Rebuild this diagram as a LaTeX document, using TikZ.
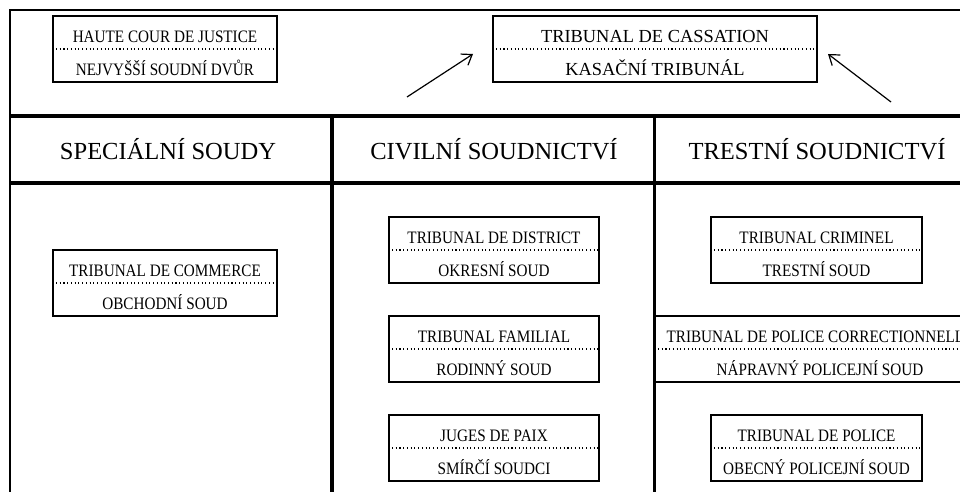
\documentclass[tikz,border=0pt]{standalone}
\usepackage{fontspec}
\setmainfont{Liberation Serif}
\newfontfamily\condfont[FakeStretch=0.87]{Liberation Serif}
\usetikzlibrary{arrows.meta}
\tikzset{
  frameline/.style={line width=1.5pt, black},
  thickline/.style={line width=2.3pt, black},
  cbox/.style={draw, line width=1.1pt, rectangle, inner sep=0pt, minimum height=66*0.75pt},
  divider/.style={dotted, line width=0.8pt, line cap=butt},
  ctext/.style={anchor=base, inner sep=0pt, font=\condfont\fontsize{13.1pt}{15pt}\selectfont},
  ntext/.style={anchor=base, inner sep=0pt, font=\fontsize{13.8pt}{16pt}\selectfont},
  htext/.style={anchor=base, inner sep=0pt, font=\fontsize{18.4pt}{22pt}\selectfont},
  arr/.style={line width=0.9pt, -{Straight Barb[length=7pt,width=10pt,line width=0.9pt]}}
}
% #1 name, #2 x centre, #3 y top, #4 width, #5 style, #6 top text, #7 bottom text
\newcommand\courtbox[7]{%
  \node[cbox, minimum width=#4*0.75pt] (#1) at (#2,#3+33) {};
  \draw[divider] (#1.west) -- (#1.east);
  \node[#5] (#1-a) at (#2,#3+26.6) {#6};
  \node[#5] (#1-b) at (#2,#3+59) {#7};
}
\begin{document}
\begin{tikzpicture}[x=0.75pt,y=-0.75pt]
\useasboundingbox (0,0) rectangle (960,492);
% frame
\draw[frameline] (9.5,500) -- (9.5,10) -- (1000,10);
\draw[thickline] (9.5,116) -- (1000,116);
\draw[thickline] (9.5,183) -- (1000,183);
\draw[thickline] (332,116) -- (332,500);
\draw[thickline] (654.5,116) -- (654.5,500);
% headers
\node[htext] (h1) at (168,159) {SPECIÁLNÍ SOUDY};
\node[htext] (h2) at (494,159) {CIVILNÍ SOUDNICTVÍ};
\node[htext] (h3) at (817,159) {TRESTNÍ SOUDNICTVÍ};
% top boxes
\courtbox{haute}{165}{16}{224}{ctext}{HAUTE COUR DE JUSTICE}{NEJVYŠŠÍ SOUDNÍ DVŮR}
\courtbox{cass}{655}{16}{324}{ntext}{TRIBUNAL DE CASSATION}{KASAČNÍ TRIBUNÁL}
% arrows
\coordinate (a1s) at (407,97);
\coordinate (a1e) at (473,54);
\coordinate (a2s) at (891,102);
\coordinate (a2e) at (828,54);
\draw[arr] (a1s) -- (a1e);
\draw[arr] (a2s) -- (a2e);
% special courts
\courtbox{comm}{165}{250}{224}{ctext}{TRIBUNAL DE COMMERCE}{OBCHODNÍ SOUD}
% civil
\courtbox{dist}{494}{217}{210}{ctext}{TRIBUNAL DE DISTRICT}{OKRESNÍ SOUD}
\courtbox{fam}{494}{316}{210}{ctext}{TRIBUNAL FAMILIAL}{RODINNÝ SOUD}
\courtbox{paix}{494}{415}{210}{ctext}{JUGES DE PAIX}{SMÍRČÍ SOUDCI}
% criminal
\courtbox{crim}{816.5}{217}{211}{ctext}{TRIBUNAL CRIMINEL}{TRESTNÍ SOUD}
\courtbox{corr}{820}{316}{330}{ctext}{TRIBUNAL DE POLICE CORRECTIONNELLE}{NÁPRAVNÝ POLICEJNÍ SOUD}
\courtbox{pol}{816.5}{415}{211}{ctext}{TRIBUNAL DE POLICE}{OBECNÝ POLICEJNÍ SOUD}
\end{tikzpicture}
\end{document}
